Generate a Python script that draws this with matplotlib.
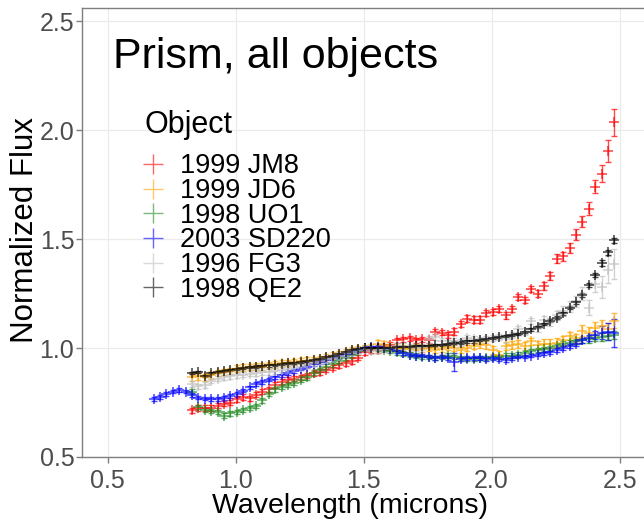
import matplotlib
matplotlib.use("Agg")
import matplotlib.pyplot as plt

plt.rcParams['font.family'] = ['Liberation Sans', 'DejaVu Sans']

# wavelength grid (microns) shared by the spectra
wl = [0.83, 0.855, 0.88, 0.905, 0.93, 0.955, 0.98, 1.005, 1.03, 1.055,
      1.08, 1.105, 1.13, 1.155, 1.18, 1.205, 1.23, 1.255, 1.28, 1.305,
      1.33, 1.355, 1.38, 1.405, 1.43, 1.455, 1.48, 1.505, 1.53, 1.555,
      1.58, 1.605, 1.63, 1.655, 1.68, 1.705, 1.73, 1.755, 1.78, 1.805,
      1.83, 1.855, 1.88, 1.905, 1.93, 1.955, 1.98, 2.005, 2.03, 2.055,
      2.08, 2.105, 2.13, 2.155, 2.18, 2.205, 2.23, 2.255, 2.28, 2.305,
      2.33, 2.355, 2.38, 2.405, 2.43, 2.455, 2.48]
# SD220 spectrum reaches further into the blue
wl_sd220 = [0.68, 0.705, 0.73, 0.755, 0.78, 0.805] + wl

jm8 = [0.715, 0.725, 0.725, 0.725, 0.735, 0.745, 0.75, 0.765, 0.775, 0.77,
       0.785, 0.80, 0.81, 0.83, 0.845, 0.855, 0.86, 0.865, 0.875, 0.885,
       0.89, 0.90, 0.91, 0.92, 0.93, 0.94, 0.955, 0.98, 0.99, 0.99,
       1.005, 1.015, 1.035, 1.04, 1.045, 1.035, 1.04, 1.035, 1.075, 1.07,
       1.06, 1.075, 1.11, 1.135, 1.13, 1.13, 1.16, 1.165, 1.18, 1.15,
       1.18, 1.235, 1.22, 1.27, 1.25, 1.285, 1.33, 1.41, 1.42, 1.46,
       1.52, 1.58, 1.64, 1.74, 1.80, 1.905, 2.035]
jm8_err = [0.012] * 40 + [0.015] * 15 + [0.018, 0.02, 0.02, 0.02, 0.022,
           0.025, 0.025, 0.028, 0.03, 0.04, 0.05, 0.063]

jd6 = [0.865, 0.87, 0.865, 0.875, 0.885, 0.89, 0.895, 0.905, 0.91, 0.912,
       0.915, 0.915, 0.92, 0.925, 0.93, 0.932, 0.935, 0.94, 0.942, 0.945,
       0.95, 0.958, 0.965, 0.972, 0.98, 0.99, 0.995, 1.0, 1.005, 1.02,
       1.015, 1.005, 1.0, 1.0, 0.995, 1.005, 0.995, 1.0, 0.99, 0.995,
       1.005, 1.0, 0.99, 1.0, 1.01, 1.02, 1.015, 0.99, 0.97, 1.01,
       1.015, 1.02, 1.01, 1.03, 1.015, 1.02, 1.02, 1.025, 1.035, 1.055,
       1.045, 1.08, 1.07, 1.09, 1.10, 1.085, 1.125]
jd6_err = [0.015] * 45 + [0.018] * 10 + [0.02] * 6 + [0.025, 0.025, 0.028,
           0.03, 0.03, 0.035]

uo1 = [0.80, 0.73, 0.715, 0.71, 0.705, 0.69, 0.70, 0.705, 0.715, 0.725,
       0.735, 0.76, 0.79, 0.81, 0.82, 0.83, 0.84, 0.855, 0.865, 0.885,
       0.90, 0.915, 0.925, 0.94, 0.955, 0.97, 0.985, 1.0, 1.0, 0.995,
       0.99, 0.985, 0.98, 0.975, 0.97, 0.965, 0.96, 0.96, 0.955, 0.96,
       0.965, 0.96, 0.955, 0.95, 0.95, 0.955, 0.955, 0.96, 0.96, 0.965,
       0.965, 0.97, 0.975, 0.985, 0.99, 0.995, 1.0, 1.01, 1.02, 1.025,
       1.03, 1.035, 1.04, 1.045, 1.05, 1.055, 1.06]
uo1_err = [0.01] * 60 + [0.012, 0.012, 0.015, 0.015, 0.018, 0.02, 0.02]

sd220 = [0.765, 0.775, 0.79, 0.80, 0.807, 0.80,
         0.785, 0.772, 0.768, 0.766, 0.766, 0.77, 0.78, 0.79, 0.805, 0.82,
         0.835, 0.845, 0.855, 0.865, 0.875, 0.885, 0.895, 0.905, 0.915, 0.925,
         0.935, 0.945, 0.955, 0.963, 0.972, 0.98, 0.99, 0.998, 1.003, 1.005,
         1.0, 0.995, 0.985, 0.975, 0.97, 0.965, 0.965, 0.96, 0.955, 0.96,
         0.955, 0.935, 0.95, 0.955, 0.955, 0.955, 0.95, 0.955, 0.95, 0.945,
         0.955, 0.96, 0.96, 0.965, 0.97, 0.975, 0.98, 0.99, 1.0, 1.01,
         1.02, 1.035, 1.045, 1.06, 1.07, 1.075, 1.07]
sd220_err = [0.008] * 47 + [0.04] + [0.008] * 18 + [0.01, 0.012, 0.015,
             0.02, 0.03, 0.04, 0.065]

fg3 = [0.835, 0.825, 0.83, 0.85, 0.86, 0.865, 0.87, 0.875, 0.878, 0.882,
       0.885, 0.888, 0.89, 0.895, 0.9, 0.905, 0.91, 0.915, 0.92, 0.93,
       0.94, 0.948, 0.955, 0.965, 0.975, 0.98, 0.99, 0.995, 0.985, 0.99,
       0.995, 1.0, 1.01, 1.01, 1.005, 1.0, 1.005, 1.04, 1.05, 1.03,
       1.02, 1.03, 1.025, 1.045, 1.04, 1.035, 1.04, 1.045, 1.05, 1.04,
       1.06, 1.085, 1.075, 1.125, 1.09, 1.13, 1.12, 1.15, 1.17, 1.19,
       1.215, 1.25, 1.185, 1.295, 1.28, 1.36, 1.385]
fg3_err = [0.012] * 30 + [0.015] * 25 + [0.018, 0.02, 0.02, 0.022, 0.025,
           0.025, 0.03, 0.035, 0.04, 0.05, 0.06, 0.07]

qe2 = [0.885, 0.89, 0.872, 0.885, 0.89, 0.895, 0.9, 0.905, 0.908, 0.912,
       0.915, 0.918, 0.92, 0.923, 0.926, 0.93, 0.933, 0.936, 0.94, 0.945,
       0.95, 0.957, 0.965, 0.972, 0.98, 0.99, 0.995, 1.0, 1.0, 1.0,
       1.0, 1.0, 1.005, 1.005, 1.005, 1.01, 1.01, 1.01, 1.015, 1.015,
       1.02, 1.025, 1.025, 1.03, 1.03, 1.035, 1.04, 1.045, 1.05, 1.055,
       1.06, 1.065, 1.075, 1.085, 1.095, 1.11, 1.125, 1.14, 1.16, 1.185,
       1.21, 1.245, 1.29, 1.335, 1.39, 1.44, 1.495]
qe2_err = [0.005] * 55 + [0.006, 0.006, 0.007, 0.007, 0.008, 0.008, 0.009,
           0.01, 0.01, 0.012, 0.012, 0.012]

names = ['1999 JM8', '1999 JD6', '1998 UO1', '2003 SD220', '1996 FG3', '1998 QE2']
colors = ['red', 'orange', 'forestgreen', 'blue', 'silver', 'black']
series = [(wl, jm8, jm8_err), (wl, jd6, jd6_err), (wl, uo1, uo1_err),
          (wl_sd220, sd220, sd220_err), (wl, fg3, fg3_err), (wl, qe2, qe2_err)]

W, H = 644, 523
fig = plt.figure(figsize=(W / 100, H / 100), dpi=100)
# panel runs past the right edge of the canvas
x0, x1 = 0.4, 2.6
y0, y1 = 0.5, 2.56
left_px, right_px = 82, 82 + (x1 - x0) * 256
top_px, bot_px = 8, 457
ax = fig.add_axes([left_px / W, 1 - bot_px / H,
                   (right_px - left_px) / W, (bot_px - top_px) / H])

for (x, y, e), name, c in zip(series, names, colors):
    ax.errorbar(x, y, yerr=e, fmt='none', ecolor=c, elinewidth=1.0,
                capsize=2.5, capthick=1.0, alpha=0.7, zorder=3)
    ax.plot(x, y, '+', color=c, markersize=6.5, mew=1.1, alpha=0.75,
            label=name, zorder=4)

ax.set_xlim(x0, x1)
ax.set_ylim(y0, y1)
ax.set_xticks([0.5, 1.0, 1.5, 2.0, 2.5])
ax.set_yticks([0.5, 1.0, 1.5, 2.0, 2.5])
ax.grid(True, color='#ebebeb', linewidth=0.9, zorder=0)
ax.set_axisbelow(True)

for side in ['left', 'bottom', 'top', 'right']:
    ax.spines[side].set_color('#7f7f7f')
    ax.spines[side].set_linewidth(1.0)
ax.tick_params(axis='both', length=4, width=1, color='#7f7f7f',
               labelsize=18, labelcolor='#4d4d4d')
ax.tick_params(axis='x', pad=5)
ax.tick_params(axis='y', pad=1.5)

ax.set_xlabel('Wavelength (microns)', fontsize=20.5)
ax.set_ylabel('Normalized Flux', fontsize=22.5)
ax.xaxis.set_label_coords((350 - left_px) / (right_px - left_px), -0.08)
ax.yaxis.set_label_coords(-0.075, 0.505)

ax.text(0.055, 0.89, 'Prism, all objects', transform=ax.transAxes,
        fontsize=31, va='center', ha='left')

# legend title drawn on its own so the gap above the entries can be set
ax.text(0.1115, 0.74, 'Object', transform=ax.transAxes,
        fontsize=22, va='center', ha='left')
leg = ax.legend(loc='upper left', bbox_to_anchor=(0.1065, 0.676),
                frameon=False, fontsize=19.5, markerscale=2.3,
                handlelength=0.8, handletextpad=0.6, labelspacing=-0.05,
                borderpad=0, borderaxespad=0)
for h in leg.legend_handles:
    h.set_markeredgewidth(1.0)
    h.set_alpha(0.6)

fig.savefig('out.png', dpi=100)
